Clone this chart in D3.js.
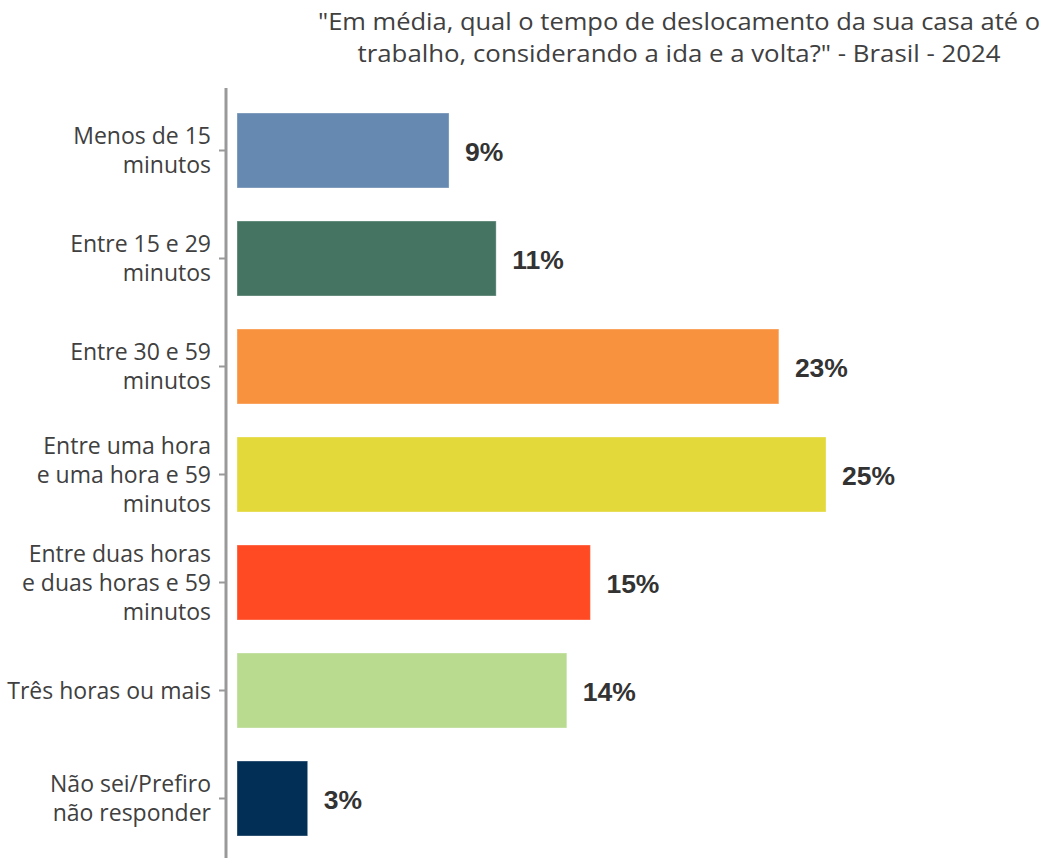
<!DOCTYPE html>
<html><head><meta charset="utf-8">
<script src="https://cdn.jsdelivr.net/npm/d3@7"></script>
<style>html,body{margin:0;padding:0;background:#fff;}</style>
</head><body>
<svg id="chart" width="1044" height="858"></svg>
<script>
const categories = [
  ["Menos de 15", "minutos"],
  ["Entre 15 e 29", "minutos"],
  ["Entre 30 e 59", "minutos"],
  ["Entre uma hora", "e uma hora e 59", "minutos"],
  ["Entre duas horas", "e duas horas e 59", "minutos"],
  ["Três horas ou mais"],
  ["Não sei/Prefiro", "não responder"]
];
const values = [9, 11, 23, 25, 15, 14, 3];
const colors = ["#6689B1", "#457463", "#F9923F", "#E3D93A", "#FF4A23", "#B8DB90", "#022F55"];
const titleLines = ["\"Em média, qual o tempo de deslocamento da sua casa até o", "trabalho, considerando a ida e a volta?\" - Brasil - 2024"];

const svg = d3.select("#chart");
const font = "'Open Sans', sans-serif";
const ids = categories.map((c, i) => i);

const x = d3.scaleLinear().domain([0, 25]).range([237, 826]);
const y = d3.scaleBand().domain(ids).range([113, 836]).paddingInner(33 / 108).paddingOuter(0);

// title
svg.append("g").selectAll("text").data(titleLines).join("text")
  .attr("x", 679).attr("y", (d, i) => 30 + i * 32)
  .attr("text-anchor", "middle")
  .attr("font-family", font).attr("font-size", 24).attr("fill", "#404040")
  .attr("textLength", (d, i) => i === 0 ? 722 : 643).attr("lengthAdjust", "spacingAndGlyphs")
  .text(d => d);

// bars
svg.append("g").selectAll("rect").data(values).join("rect")
  .attr("x", x(0)).attr("y", (d, i) => y(i))
  .attr("width", d => x(d) - x(0)).attr("height", y.bandwidth())
  .attr("fill", (d, i) => colors[i])
  .attr("stroke", "rgba(255,255,255,0.35)").attr("stroke-width", 1);

// value labels
svg.append("g").selectAll("text").data(values).join("text")
  .attr("x", d => x(d) + 16).attr("y", (d, i) => y(i) + y.bandwidth() / 2 + 10)
  .attr("font-family", "'Liberation Sans', Arial, sans-serif").attr("font-weight", "bold")
  .attr("font-size", 26.5).attr("fill", "#333")
  .text(d => d + "%");

// axis
const axis = d3.axisLeft(y).tickSize(7).tickFormat("");
const ag = svg.append("g").attr("transform", "translate(226,0)").call(axis);
ag.select(".domain").attr("stroke", "#999").attr("stroke-width", 3).attr("d", "M0,88V858");
ag.selectAll(".tick line").attr("stroke", "#999").attr("stroke-width", 2);

// category labels
const lg = svg.append("g");
categories.forEach((lines, i) => {
  const cy = y(i) + y.bandwidth() / 2;
  const lh = 29;
  const start = cy - (lines.length - 1) * lh / 2 + 8;
  lg.append("text")
    .attr("text-anchor", "end")
    .attr("font-family", font).attr("font-size", 23).attr("fill", "#404040")
    .selectAll("tspan").data(lines).join("tspan")
    .attr("x", 211).attr("y", (d, j) => start + j * lh)
    .text(d => d);
});
</script>
</body></html>
